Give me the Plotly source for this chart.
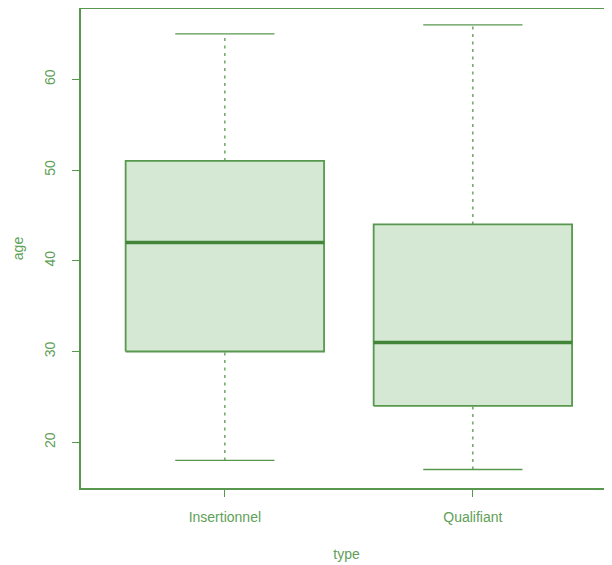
import plotly.graph_objects as go

categories = ["Insertionnel", "Qualifiant"]
positions = [1, 2]
lower_whisker = [18, 17]
q1 = [30, 24]
median = [42, 31]
q3 = [51, 44]
upper_whisker = [65, 66]
y_ticks = [20, 30, 40, 50, 60]

LINE = "rgb(88,152,78)"
DARK = "rgb(66,132,56)"
FILL = "rgb(213,232,212)"
TEXT = "rgb(96,160,88)"
FONT = "Liberation Sans, Arial, sans-serif"

BOX_HALF = 0.4
CAP_HALF = 0.2

fig = go.Figure()
for i, x in enumerate(positions):
    # whiskers (dashed)
    fig.add_trace(go.Scatter(x=[x, x], y=[q3[i], upper_whisker[i]], mode="lines",
                             line=dict(color=LINE, width=1.3, dash="3px,4.5px"),
                             hoverinfo="skip", showlegend=False))
    fig.add_trace(go.Scatter(x=[x, x], y=[lower_whisker[i], q1[i]], mode="lines",
                             line=dict(color=LINE, width=1.3, dash="3px,4.5px"),
                             hoverinfo="skip", showlegend=False))
    # caps
    for v in (upper_whisker[i], lower_whisker[i]):
        fig.add_trace(go.Scatter(x=[x - CAP_HALF, x + CAP_HALF], y=[v, v], mode="lines",
                                 line=dict(color=LINE, width=1.3),
                                 hoverinfo="skip", showlegend=False))
    # box
    fig.add_trace(go.Scatter(
        x=[x - BOX_HALF, x + BOX_HALF, x + BOX_HALF, x - BOX_HALF, x - BOX_HALF],
        y=[q1[i], q1[i], q3[i], q3[i], q1[i]],
        mode="lines", fill="toself", fillcolor=FILL,
        line=dict(color=LINE, width=1.8), hoverinfo="skip", showlegend=False))
    # median
    fig.add_trace(go.Scatter(x=[x - BOX_HALF, x + BOX_HALF], y=[median[i], median[i]],
                             mode="lines", line=dict(color=DARK, width=3.5),
                             hoverinfo="skip", showlegend=False))

fig.update_layout(
    width=604, height=557,
    margin=dict(l=73, r=0, t=1, b=77),
    paper_bgcolor="white", plot_bgcolor="white",
    font=dict(family=FONT, size=14, color=TEXT),
    showlegend=False,
    xaxis=dict(range=[0.42, 2.561], tickvals=positions, ticktext=categories,
               showgrid=False, zeroline=False, showline=True, linecolor=LINE,
               linewidth=1.5, mirror=True, ticks="outside", ticklen=7,
               tickcolor=LINE, tickwidth=1.2, tickfont=dict(size=14, color=TEXT),
               ticklabelstandoff=8, automargin=False,
               title=dict(text="type", standoff=26, font=dict(size=14, color=TEXT))),
    yaxis=dict(range=[14.96, 67.74], tickvals=y_ticks,
               showgrid=False, zeroline=False, showline=True, linecolor=LINE,
               linewidth=1.5, ticks="outside", ticklen=7, tickcolor=LINE,
               tickwidth=1.2, tickangle=-90, tickfont=dict(size=14, color=TEXT),
               ticklabelstandoff=12, automargin=False,
               title=dict(text="age", standoff=15, font=dict(size=14, color=TEXT))),
)

fig.write_html("out.html")
